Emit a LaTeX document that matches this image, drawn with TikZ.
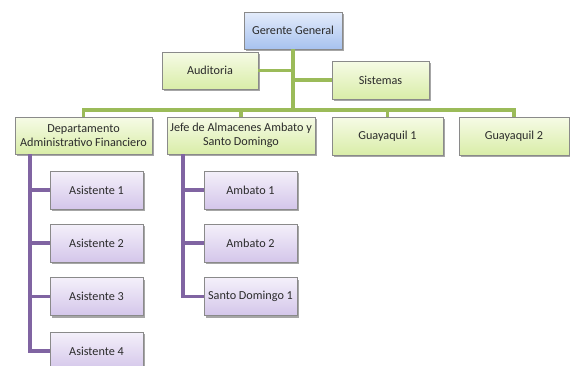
\documentclass[tikz,border=0pt]{standalone}
\usepackage{fontspec}
\setmainfont{Carlito}
\usetikzlibrary{shadows}
\definecolor{gline}{HTML}{9BBB59}
\definecolor{pline}{HTML}{8064A2}
\definecolor{gtop}{HTML}{F6FBE6}
\definecolor{gbot}{HTML}{D9EDA8}
\definecolor{btop}{HTML}{E4ECFB}
\definecolor{bbot}{HTML}{A7C2EF}
\definecolor{ptop}{HTML}{F4F0FA}
\definecolor{pbot}{HTML}{D4C6EA}
\definecolor{rim}{HTML}{8A8A8A}
\definecolor{txt}{HTML}{2B2B2B}
\tikzset{
  box/.style={draw=rim,line width=0.6pt,inner sep=0pt,align=center,text=txt,
    font=\fontsize{12.2}{14}\selectfont,
    drop shadow={shadow xshift=2pt,shadow yshift=-2pt,opacity=0.35,fill=black}},
  bbox/.style={box,top color=btop,bottom color=bbot},
  gbox/.style={box,top color=gtop,bottom color=gbot},
  pbox/.style={box,top color=ptop,bottom color=pbot,minimum width=93pt,minimum height=38pt},
  gconn/.style={draw=gline,line width=3.8pt},
  pconn/.style={draw=pline,line width=3.8pt}
}
\begin{document}
\begin{tikzpicture}[x=1pt,y=-1pt]
\clip (0,0) rectangle (570,365);
\begin{scope}
\node[bbox,minimum width=98pt,minimum height=37pt] (ger) at (293,30.5) {Gerente General};
\node[gbox,minimum width=96pt,minimum height=37pt] (aud) at (210,70.5) {Auditoria};
\node[gbox,minimum width=97pt,minimum height=38pt] (sis) at (380.5,80) {Sistemas};
\coordinate (bus) at (293,110);
\draw[gconn] (ger.south) -- (bus);
\draw[gconn] (aud.east) -- (aud.east -| bus);
\draw[gconn] (sis.west) -- (sis.west -| bus);
\end{scope}
\begin{scope}
\node[gbox,minimum width=137pt,minimum height=37pt] (dept) at (83.5,135.5) {Departamento\\Administrativo Financiero};
\node[gbox,minimum width=148pt,minimum height=37pt] (jefe) at (241,135.5) {Jefe de Almacenes Ambato y\\Santo Domingo};
\node[gbox,minimum width=111pt,minimum height=38pt] (gq1) at (387.5,136) {Guayaquil 1};
\node[gbox,minimum width=110pt,minimum height=38pt] (gq2) at (514,136) {Guayaquil 2};
\draw[gconn] (dept.north) -- (dept.north |- bus) -- (gq2.north |- bus) -- (gq2.north);
\foreach \n in {jefe,gq1} \draw[gconn] (\n.north) -- (\n.north |- bus);
\end{scope}
\begin{scope}
\foreach \i/\y in {1/190,2/243,3/296.5,4/351} \node[pbox] (as\i) at (96.5,\y) {Asistente \i};
\node[pbox] (amb1) at (250.5,190) {Ambato 1};
\node[pbox] (amb2) at (250.5,243) {Ambato 2};
\node[pbox] (sd1) at (250.5,296.5) {Santo Domingo 1};
\coordinate (dtr) at ([xshift=15pt]dept.south west);
\coordinate (jtr) at ([xshift=16pt]jefe.south west);
\draw[pconn] (dtr) |- (as4.west);
\draw[pconn] (jtr) |- (sd1.west);
\foreach \i in {1,2,3} \draw[pconn] (as\i.west) -- (as\i.west -| dtr);
\foreach \n in {amb1,amb2} \draw[pconn] (\n.west) -- (\n.west -| jtr);
\end{scope}
\end{tikzpicture}
\end{document}
